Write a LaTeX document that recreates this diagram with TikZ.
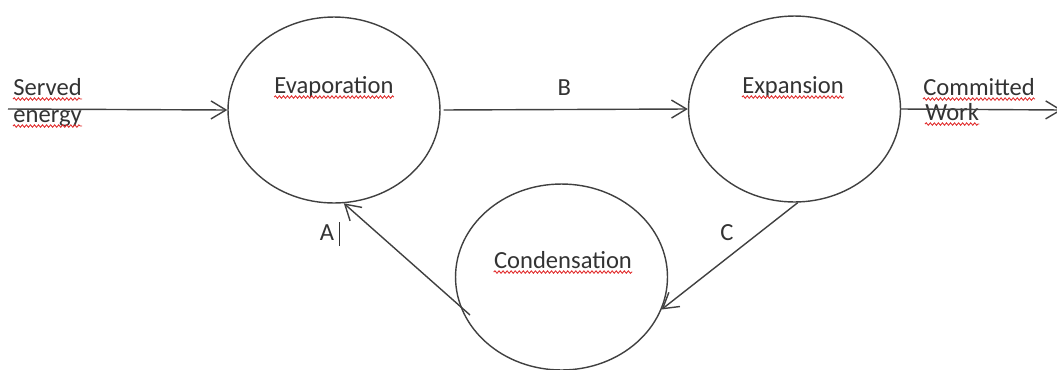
\documentclass[tikz,border=0pt]{standalone}
\usepackage{fontspec}
\setmainfont{Carlito}
\usetikzlibrary{arrows.meta, positioning, shapes.geometric, decorations.pathmorphing}
\definecolor{lineGray}{gray}{0.25}
\definecolor{textGray}{gray}{0.2}
\definecolor{spellRed}{RGB}{225,45,45}

\begin{document}
\begin{tikzpicture}[x=0.02cm, y=-0.02cm, >={Straight Barb[length=3mm, width=3.6mm]},
    stage/.style={ellipse, draw=lineGray, line width=0.8pt, minimum width=4.24cm, minimum height=3.72cm, inner sep=0pt},
    word/.style={text=textGray, inner sep=0pt, font=\fontsize{14}{17}\selectfont, text depth=0.15em},
    flow/.style={->, lineGray, line width=0.8pt},
    squiggle/.style={spellRed, line width=0.5pt, decorate, decoration={snake, amplitude=0.7pt, segment length=2.3pt}}]
    \useasboundingbox (0,0) rectangle (1057,369);

    % the three stages
    \node[stage] (evap) at (334,110) {};
    \node[stage] (expn) at (794.5,109) {};
    \node[stage] (cond) at (561.5,277) {};

    \node[word, anchor=base] (evapT) at (334,93) {Evaporation};
    \node[word, anchor=base] (expnT) at (793,93) {Expansion};
    \node[word, anchor=base] (condT) at (563,268) {Condensation};

    % in and out
    \node[word, anchor=base west] (servT) at (13,95) {Served};
    \node[word, anchor=base west] (enerT) at (13,122) {energy};
    \node[word, anchor=base west] (commT) at (923,95) {Committed};
    \node[word, anchor=base west] (workT) at (925,120) {Work};

    \coordinate (inL) at (8,109);
    \coordinate (outR) at (1062,110);
    \coordinate (aTail) at (470,315);

    \draw[flow] (inL) -- (evap.west);
    \draw[flow, shorten <=0.06cm] (evap.east) -- (expn.west) node[word, midway, above=0.22cm] (bT) {B};
    \draw[flow] (expn.east) -- (outR);
    \draw[flow] (expn.-88) -- (cond.-18);
    \draw[flow] (aTail) -- (evap.-84);

    \node[word, anchor=base] (cT) at (727,240) {C};
    \node[word, anchor=base] (aT) at (327,240) {A};
    \draw[textGray, line width=0.6pt] (aT.base east) ++(5,6) -- ++(0,-24);

    % spell check marks
    \foreach \w in {servT, enerT, evapT, expnT, condT, commT, workT}
        \draw[squiggle] ([yshift=-0.6pt]\w.south west) -- ([yshift=-0.6pt]\w.south east);
\end{tikzpicture}
\end{document}
